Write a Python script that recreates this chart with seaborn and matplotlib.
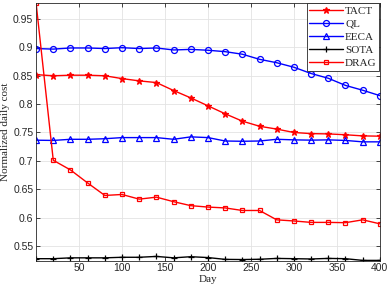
import numpy as np
import pandas as pd
import seaborn as sns
import matplotlib
matplotlib.use("Agg")
import matplotlib.pyplot as plt

days = [0, 20, 40, 60, 80, 100, 120, 140, 160, 180, 200,
        220, 240, 260, 280, 300, 320, 340, 360, 380, 400]
tact = [0.852, 0.850, 0.851, 0.851, 0.850, 0.845, 0.841, 0.838, 0.824, 0.811, 0.797,
        0.783, 0.770, 0.761, 0.756, 0.750, 0.748, 0.7475, 0.746, 0.744, 0.7435]
ql = [0.898, 0.897, 0.899, 0.899, 0.898, 0.8995, 0.898, 0.899, 0.8955, 0.8965, 0.895,
      0.8925, 0.888, 0.879, 0.873, 0.865, 0.854, 0.8456, 0.833, 0.8245, 0.815]
eeca = [0.7364, 0.736, 0.738, 0.738, 0.739, 0.741, 0.741, 0.741, 0.738, 0.7423, 0.741,
        0.735, 0.7345, 0.735, 0.738, 0.737, 0.7365, 0.737, 0.736, 0.7335, 0.7335]
sota = [0.5275, 0.5275, 0.529, 0.529, 0.529, 0.530, 0.530, 0.5315, 0.529, 0.531, 0.5295,
        0.5263, 0.526, 0.5265, 0.528, 0.5275, 0.527, 0.528, 0.5275, 0.5245, 0.5245]
drag = [0.978, 0.701, 0.684, 0.661, 0.639, 0.6407, 0.6325, 0.636, 0.628, 0.621, 0.6185,
        0.617, 0.6125, 0.6125, 0.596, 0.594, 0.5915, 0.5915, 0.591, 0.596, 0.589]

series = {"TACT": tact, "QL": ql, "EECA": eeca, "SOTA": sota, "DRAG": drag}
styles = {
    "TACT": dict(color="#ff0000", marker="*", markersize=5, markerfacecolor="#ff0000"),
    "QL": dict(color="#0000ff", marker="o", markersize=4.3, markerfacecolor="none"),
    "EECA": dict(color="#0000ff", marker="^", markersize=4.5, markerfacecolor="none"),
    "SOTA": dict(color="#000000", marker="+", markersize=5, markerfacecolor="none"),
    "DRAG": dict(color="#ff0000", marker="s", markersize=3.4, markerfacecolor="none"),
}

rows = []
for name, vals in series.items():
    for d, v in zip(days, vals):
        rows.append({"Day": d, "cost": v, "method": name})
df = pd.DataFrame(rows)

sns.set_style("ticks")
plt.rcParams["font.family"] = ["Liberation Sans", "DejaVu Sans"]

fig = plt.figure(figsize=(3.88, 2.89), dpi=100)
ax = fig.add_axes([0.093, 0.098, 0.886, 0.893])

for name in series:
    st = styles[name]
    sub = df[df["method"] == name]
    sns.lineplot(data=sub, x="Day", y="cost", ax=ax, label=name,
                 color=st["color"], linewidth=1.0, marker=st["marker"],
                 markersize=st["markersize"], markerfacecolor=st["markerfacecolor"],
                 markeredgecolor=st["color"], markeredgewidth=0.9, errorbar=None)

ax.set_xlim(0, 400)
ax.set_ylim(0.524, 0.979)
ax.set_xticks([50, 100, 150, 200, 250, 300, 350, 400])
yt = [0.55, 0.6, 0.65, 0.7, 0.75, 0.8, 0.85, 0.9, 0.95]
ax.set_yticks(yt)
ax.set_yticklabels([("%g" % v) for v in yt])
ax.tick_params(direction="in", length=3, width=0.6, labelsize=7.5, colors="#262626",
               top=True, right=True, pad=2)
ax.grid(True, color="#e3e3e3", linewidth=0.6)
for s in ax.spines.values():
    s.set_color("#262626")
    s.set_linewidth(0.6)

ax.set_xlabel("Day", family=["Liberation Serif"], fontsize=8, labelpad=1)
ax.set_ylabel("Normalized daily cost", family=["Liberation Serif"], fontsize=8, labelpad=2)

leg = ax.legend(loc="upper right", prop={"family": "Liberation Serif", "size": 8},
                frameon=True, fancybox=False, edgecolor="#262626", framealpha=1,
                borderpad=0.25, labelspacing=0.3, handlelength=3.0, handletextpad=0.2,
                borderaxespad=0.05)
leg.get_frame().set_linewidth(0.6)

fig.savefig("out.png", dpi=100)
